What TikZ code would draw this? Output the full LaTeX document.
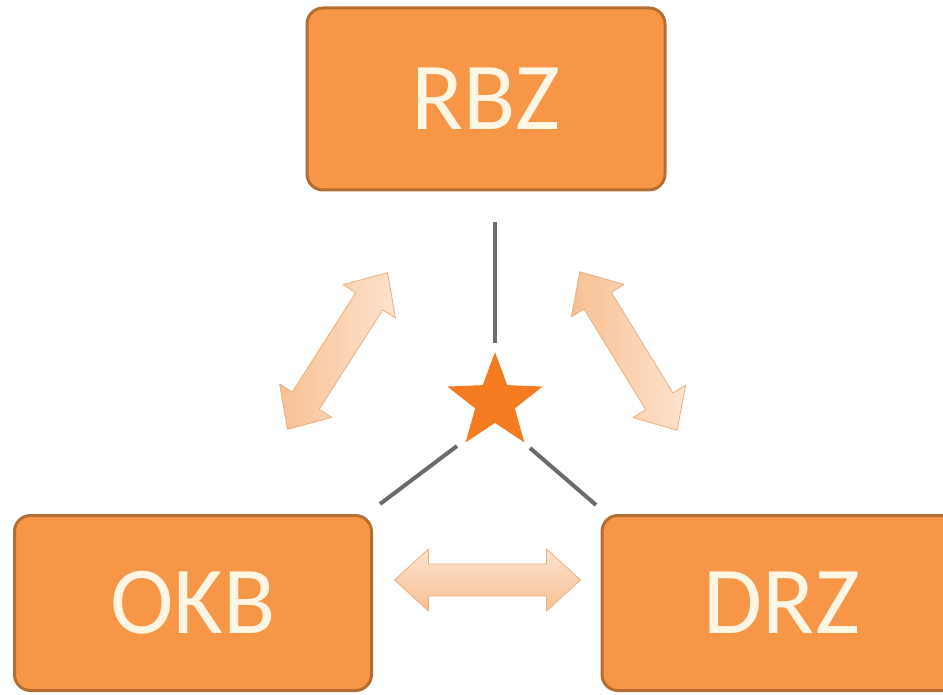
\documentclass[tikz,border=0pt]{standalone}
\usepackage{fontspec}
\setmainfont{Carlito}
\usetikzlibrary{shapes.geometric}
\definecolor{boxfill}{HTML}{F79646}
\definecolor{boxline}{HTML}{B46E32}
\definecolor{boxtext}{HTML}{FFF6E3}
\definecolor{starfill}{HTML}{F47B20}
\definecolor{linegray}{HTML}{6B6B6B}
\definecolor{arrlight}{HTML}{FDE3CE}
\definecolor{arrdark}{HTML}{F8C093}
\definecolor{arrline}{HTML}{EBAE7C}
\tikzset{
  orgbox/.style={draw=boxline, line width=3pt, fill=boxfill, rounded corners=16pt,
    text=boxtext, font=\fontsize{96}{96}\selectfont, inner sep=0pt},
  fatarrow/.style={draw=arrline, line width=0.8pt, line join=round},
  linkline/.style={draw=linegray, line width=4pt},
  pics/dblarrow/.style={code={
    \path[fatarrow, #1] (-93,0) -- (-59,31) -- (-59,16) -- (59,16) -- (59,31) -- (93,0)
      -- (59,-31) -- (59,-16) -- (-59,-16) -- (-59,-31) -- cycle;
  }}
}
\begin{document}
\begin{tikzpicture}[x=1pt,y=-1pt]
\useasboundingbox (0,0) rectangle (943,695);
\node[orgbox, minimum width=358pt, minimum height=182pt] (rbz) at (486,99) {RBZ};
\node[orgbox, minimum width=357pt, minimum height=175pt] (okb) at (193,603) {OKB};
\node[orgbox, minimum width=360pt, minimum height=175pt] (drz) at (782,603) {DRZ};
\node[star, star points=5, star point ratio=2.4, fill=starfill, minimum size=100pt, inner sep=0pt] (st) at (495,402) {};
\coordinate (t1) at (495,222);
\coordinate (t2) at (495,343);
\coordinate (l1) at (457,446);
\coordinate (l2) at (380,504);
\coordinate (r1) at (530,448);
\coordinate (r2) at (596,505);
\draw[linkline] (t1) -- (t2);
\draw[linkline] (l1) -- (l2);
\draw[linkline] (r1) -- (r2);
\coordinate (cl) at (337.5,351);
\coordinate (cr) at (628.5,351);
\coordinate (cb) at (487.5,580);
\pic[rotate=57.4] (aleft) at (cl) {dblarrow={left color=arrdark, right color=arrlight}};
\pic[rotate=-58.5] (aright) at (cr) {dblarrow={left color=arrdark, right color=arrlight}};
\pic (abottom) at (cb) {dblarrow={top color=arrlight, bottom color=arrdark}};
\end{tikzpicture}
\end{document}
